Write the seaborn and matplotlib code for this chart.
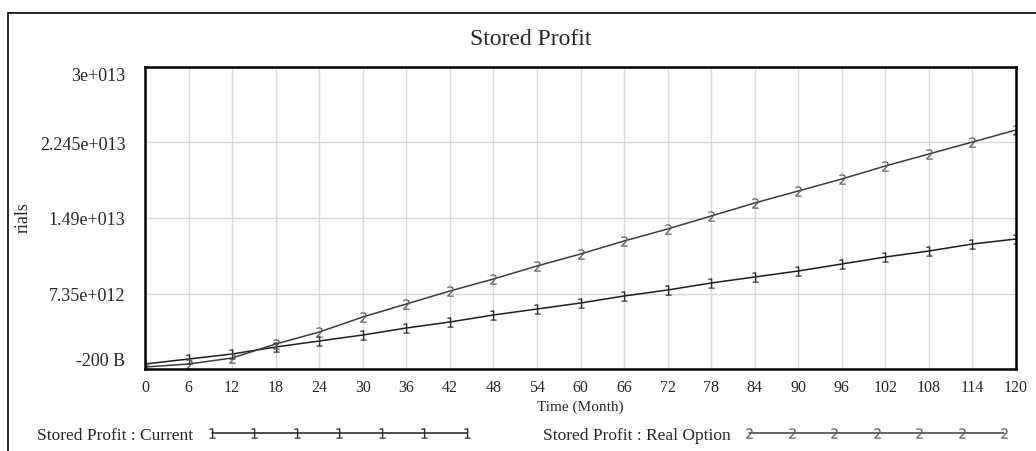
import matplotlib
matplotlib.use('Agg')
import matplotlib.pyplot as plt
from matplotlib.lines import Line2D
import seaborn as sns
import pandas as pd
import numpy as np

# Data (values in 1e12 rials)
months = [0, 6, 12, 18, 24, 30, 36, 42, 48, 54, 60, 66, 72, 78, 84, 90, 96, 102, 108, 114, 120]
current = [0.3, 0.8, 1.3, 2.0, 2.6, 3.2, 3.9, 4.5, 5.2, 5.8, 6.4, 7.1, 7.7, 8.4, 9.0,
           9.6, 10.3, 11.0, 11.6, 12.3, 12.8]
real_option = [0.0, 0.3, 0.9, 2.3, 3.5, 5.0, 6.3, 7.6, 8.8, 10.1, 11.3, 12.6, 13.8, 15.1,
               16.4, 17.6, 18.8, 20.1, 21.3, 22.5, 23.7]

y_ticks = [-2e11, 7.35e12, 1.49e13, 2.245e13, 3e13]
y_tick_labels = ['-200 B', '7.35e+012', '1.49e+013', '2.245e+013', '3e+013']
x_ticks = list(range(0, 121, 6))

sns.set_style('white')
plt.rcParams['font.family'] = ['Liberation Serif', 'DejaVu Serif']
plt.rcParams['mathtext.fontset'] = 'dejavusans'

df = pd.DataFrame({
    'month': months,
    'current': np.array(current) * 1e12,
    'real': np.array(real_option) * 1e12,
})

c1_line, c1_mark = '#1e1e1e', '#2a2a2a'
c2_line, c2_mark = '#3c3c3c', '#5a5a5a'

fig = plt.figure(figsize=(10.36, 4.52), dpi=100)
ax = fig.add_axes([0.140, 0.1814, 0.8407, 0.6682])

sns.lineplot(data=df, x='month', y='current', ax=ax, color=c1_line, linewidth=1.1,
             marker='$1$', markersize=7.5, markeredgewidth=0, markevery=1,
             markerfacecolor=c1_mark)
sns.lineplot(data=df, x='month', y='real', ax=ax, color=c2_line, linewidth=1.1,
             marker='$2$', markersize=7.5, markeredgewidth=0, markevery=1,
             markerfacecolor=c2_mark)

ax.set_xlim(0, 120)
ax.set_ylim(-2e11, 3e13)
ax.set_xticks(x_ticks)
ax.set_xticklabels([str(t) for t in x_ticks], fontsize=11.5)
ax.set_yticks(y_ticks)
ax.set_yticklabels(y_tick_labels, fontsize=13)
ax.grid(True, color='#d9d9d9', linewidth=1.0)
ax.tick_params(axis='both', direction='out', length=4, width=1, color='#cfcfcf')
ax.tick_params(axis='x', pad=3)
ax.tick_params(axis='y', pad=10)
ylabels = ax.get_yticklabels()
ylabels[0].set_va('bottom')
ylabels[-1].set_va('top')

for s in ax.spines.values():
    s.set_color('black')
    s.set_linewidth(1.8)

ax.set_xlabel('Time (Month)', fontsize=11)
ax.xaxis.set_label_coords(0.5, -0.102)
ax.set_ylabel('')
fig.text(0.022, 0.518, 'rials', rotation=90, va='center', ha='center', fontsize=13)

fig.suptitle('Stored Profit', x=0.512, y=0.912, va='center', fontsize=17)

# outer frame (top and left)
fig.add_artist(Line2D([0.0077, 1.0], [1 - 14 / 452, 1 - 14 / 452], color='black', linewidth=1.2,
                      transform=fig.transFigure))
fig.add_artist(Line2D([0.0077, 0.0077], [0.0, 1 - 14 / 452], color='black', linewidth=1.2,
                      transform=fig.transFigure))

handles = [
    Line2D([], [], color=c1_line, linewidth=1.1, marker='$1$', markersize=7.5,
           markerfacecolor=c1_mark, markeredgewidth=0),
    Line2D([], [], color=c2_line, linewidth=1.1, marker='$2$', markersize=7.5,
           markerfacecolor=c2_mark, markeredgewidth=0),
]
fig.legend(handles, ['Stored Profit : Current', 'Stored Profit : Real Option'],
           loc='center', bbox_to_anchor=(0.5053, 0.035), ncol=2, frameon=False,
           numpoints=7, markerfirst=False, handlelength=15.3, handletextpad=0.75,
           columnspacing=4.1, fontsize=12.5)

fig.savefig('out.png', dpi=100)
